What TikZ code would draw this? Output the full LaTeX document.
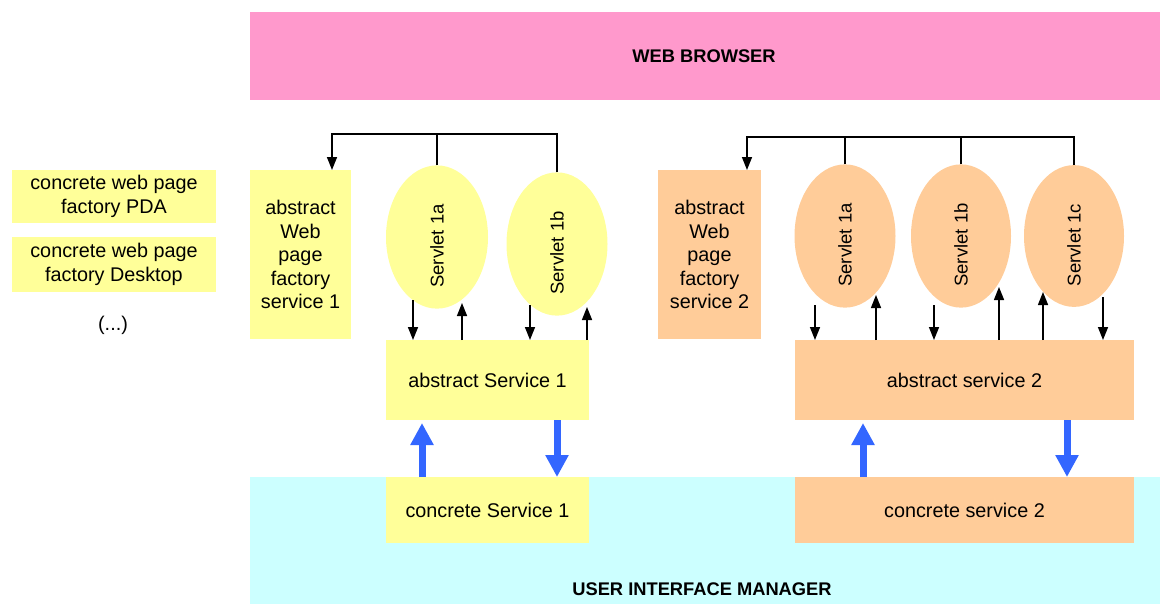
\documentclass[tikz,border=0pt]{standalone}
\usepackage{fontspec}
\setmainfont{Liberation Sans}
\usetikzlibrary{shapes.geometric,arrows.meta}
\definecolor{pinkband}{HTML}{FF99CC}
\definecolor{cyanband}{HTML}{CCFFFF}
\definecolor{yel}{HTML}{FFFF99}
\definecolor{ora}{HTML}{FFCC99}
\definecolor{blu}{HTML}{3366FF}
\newcommand{\servtxt}[1]{\fontsize{18.5}{23.5}\selectfont\rotatebox{90}{#1\hspace{18pt}}}
\begin{document}
\begin{tikzpicture}[x=1pt,y=-1pt,
  every node/.style={inner sep=0pt,outer sep=0pt,font=\fontsize{19.8}{23.5}\selectfont},
  band/.style={rectangle,draw=none},
  bx/.style={rectangle,draw=none,align=center},
  oval/.style={ellipse,draw=none},
  title/.style={font=\fontsize{18.3}{22}\selectfont\bfseries},
  thinarr/.style={line width=1.5pt,-{Triangle[length=13pt,width=10pt]}},
  thinln/.style={line width=1.5pt},
  bluarr/.style={line width=7pt,blu,-{Triangle[length=22pt,width=22pt]}}]
\useasboundingbox (0,0) rectangle (1160,605);
% bands
\node[band,fill=pinkband,minimum width=910pt,minimum height=88pt] (wb) at (705,56) {};
\node[title] (wbtext) at (704,56) {WEB BROWSER};
\node[band,fill=cyanband,minimum width=910pt,minimum height=127pt] (uim) at (705,540.5) {};
\node[title] (uimtext) at (702,589) {USER INTERFACE MANAGER};
% left boxes
\node[bx,fill=yel,minimum width=204pt,minimum height=53pt] (pda) at (114,196.5) {concrete web page\\factory PDA};
\node[bx,fill=yel,minimum width=204pt,minimum height=55pt] (desk) at (114,264.5) {concrete web page\\factory Desktop};
\node (dots) at (113,325) {(...)};
% group 1
\node[bx,fill=yel,minimum width=101pt,minimum height=169pt] (awf1) at (300.5,254.5) {abstract\\Web\\page\\factory\\service 1};
\node[oval,fill=yel,minimum width=102pt,minimum height=137pt] (s1a) at (437,237) {\servtxt{Servlet 1a}};
\node[oval,fill=yel,minimum width=101pt,minimum height=138pt] (s1b) at (557,244) {\servtxt{Servlet 1b}};
\node[bx,fill=yel,minimum width=203pt,minimum height=80pt] (as1) at (487.5,380) {abstract Service 1};
\node[bx,fill=yel,minimum width=203pt,minimum height=66pt] (cs1) at (487.5,510) {concrete Service 1};
% group 2
\node[bx,fill=ora,minimum width=103pt,minimum height=169pt] (awf2) at (709.5,254.5) {abstract\\Web\\page\\factory\\service 2};
\node[oval,fill=ora,minimum width=101pt,minimum height=138pt] (s2a) at (845,236) {\servtxt{Servlet 1a}};
\node[oval,fill=ora,minimum width=100pt,minimum height=138pt] (s2b) at (961,236) {\servtxt{Servlet 1b}};
\node[oval,fill=ora,minimum width=100pt,minimum height=138pt] (s2c) at (1074,236) {\servtxt{Servlet 1c}};
\node[bx,fill=ora,minimum width=339pt,minimum height=80pt] (as2) at (964.5,380) {abstract service 2};
\node[bx,fill=ora,minimum width=339pt,minimum height=66pt] (cs2) at (964.5,510) {concrete service 2};
% top connectors
\coordinate (t1) at (332,134);
\draw[thinarr] (s1b.north) |- (t1) -- (t1 |- awf1.north);
\draw[thinln] (s1a.north) -- (s1a.north |- t1);
\coordinate (t2) at (747,137);
\draw[thinarr] (s2c.north) |- (t2) -- (t2 |- awf2.north);
\draw[thinln] (s2a.north) -- (s2a.north |- t2);
\draw[thinln] (s2b.north) -- (s2b.north |- t2);
% servlet <-> abstract service arrows
\draw[thinarr] (413,300) -- (413,0 |- as1.north);
\draw[thinarr] (462,0 |- as1.north) -- (462,303);
\draw[thinarr] (530,305) -- (530,0 |- as1.north);
\draw[thinarr] (587,0 |- as1.north) -- (587,307);
\draw[thinarr] (815,305) -- (815,0 |- as2.north);
\draw[thinarr] (876,0 |- as2.north) -- (876,295);
\draw[thinarr] (934,305) -- (934,0 |- as2.north);
\draw[thinarr] (999,0 |- as2.north) -- (999,287);
\draw[thinarr] (1043,0 |- as2.north) -- (1043,292);
\draw[thinarr] (1103,297) -- (1103,0 |- as2.north);
% blue arrows
\draw[bluarr] (422,0 |- cs1.north) -- (422,423);
\draw[bluarr] (557,0 |- as1.south) -- (557,0 |- cs1.north);
\draw[bluarr] (863,0 |- cs2.north) -- (863,423);
\draw[bluarr] (1067,0 |- as2.south) -- (1067,0 |- cs2.north);
\end{tikzpicture}
\end{document}
